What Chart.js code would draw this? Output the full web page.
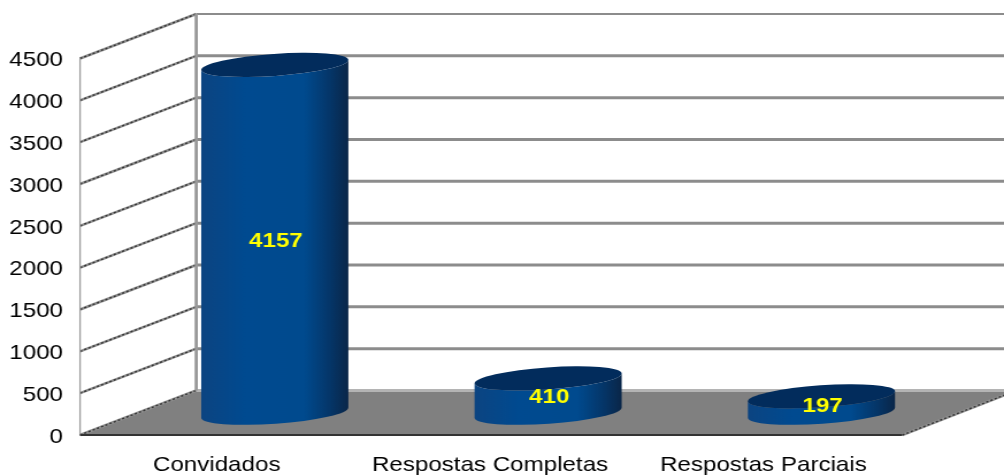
<!DOCTYPE html>
<html>
<head>
<meta charset="utf-8">
<script src="https://cdn.jsdelivr.net/npm/chart.js@4"></script>
<style>
html, body { margin: 0; padding: 0; background: #fff; }
canvas { display: block; filter: blur(0.35px); }
</style>
</head>
<body>
<!-- the picture is a widened image, so the canvas is drawn narrow and stretched to 1004 -->
<canvas id="myChart" width="873" height="475" style="width:1004px;height:475px"></canvas>
<script>
var categories = ['Convidados', 'Respostas Completas', 'Respostas Parciais'];
var values = [4157, 410, 197];
var yMax = 4500;
var yStep = 500;

// how far the back wall sits from the front plane
var depthX = 101;
var depthY = -44.5;
// tick labels sit 2px lower than the gridlines they belong to
var plotShift = -2;

function wallLine(ctx, x1, y1, x2, y2, color, width, dash) {
    ctx.save();
    ctx.strokeStyle = color;
    ctx.lineWidth = width;
    ctx.setLineDash(dash || []);
    ctx.beginPath();
    ctx.moveTo(x1, y1);
    ctx.lineTo(x2, y2);
    ctx.stroke();
    ctx.restore();
}

function roughLine(ctx, x1, y1, x2, y2) {
    wallLine(ctx, x1, y1, x2, y2, '#909090', 2.6);
    wallLine(ctx, x1, y1, x2, y2, '#333333', 1.4, [2, 2]);
}

var wallsPlugin = {
    id: 'walls',
    beforeDatasetsDraw: function (chart) {
        var ctx = chart.ctx;
        var area = chart.chartArea;
        var yScale = chart.scales.y;
        var y0 = yScale.getPixelForValue(0) + plotShift;
        var yTop = yScale.getPixelForValue(yMax) + plotShift;
        var backLeft = area.left + depthX;
        var backRight = chart.width + 20;

        // floor
        ctx.fillStyle = '#808080';
        ctx.beginPath();
        ctx.moveTo(area.left, y0);
        ctx.lineTo(backLeft, y0 + depthY);
        ctx.lineTo(area.right + depthX, y0 + depthY);
        ctx.lineTo(area.right + 2, y0);
        ctx.closePath();
        ctx.fill();

        // gridlines, back wall and side wall
        yScale.ticks.forEach(function (t) {
            var y = yScale.getPixelForValue(t.value) + plotShift;
            if (t.value > 0) {
                wallLine(ctx, backLeft, y + depthY, backRight, y + depthY, '#8c8c8c', t.value == yMax ? 2 : 3);
            }
            roughLine(ctx, area.left, y, backLeft, y + depthY);
        });
        wallLine(ctx, backLeft, y0 + depthY, backRight, y0 + depthY, '#b4b4b4', 3);

        // verticals
        wallLine(ctx, area.left, yTop, area.left, y0, '#a0a0a0', 1.3);
        wallLine(ctx, backLeft, yTop + depthY, backLeft, y0 + depthY, '#999999', 2.8);

        // floor edges
        wallLine(ctx, area.left, y0, area.right + 2, y0, '#333333', 2);
        roughLine(ctx, area.right + 2, y0, area.right + depthX, y0 + depthY);
    }
};

var cylinderPlugin = {
    id: 'cylinders',
    afterDatasetsDraw: function (chart) {
        var ctx = chart.ctx;
        var meta = chart.getDatasetMeta(0);
        var tilt = -4.6 * Math.PI / 180;
        meta.data.forEach(function (bar, i) {
            var rx = bar.width / 2;
            var ry = 11;
            var cx = bar.x + depthX / 2;
            var top = bar.y + depthY / 2 + plotShift;
            var bottom = bar.base + depthY / 2 + plotShift;
            var grad = ctx.createLinearGradient(cx - rx, 0, cx + rx, 0);
            grad.addColorStop(0, '#0c4481');
            grad.addColorStop(0.3, '#004a90');
            grad.addColorStop(0.7, '#004a8e');
            grad.addColorStop(0.88, '#053567');
            grad.addColorStop(1, '#0a2648');

            // side
            ctx.fillStyle = grad;
            ctx.beginPath();
            ctx.ellipse(cx, bottom, rx, ry, tilt, 0, Math.PI);
            ctx.ellipse(cx, top, rx, ry, tilt, Math.PI, 0, true);
            ctx.closePath();
            ctx.fill();

            // lid
            ctx.fillStyle = '#022c5c';
            ctx.beginPath();
            ctx.ellipse(cx, top, rx, ry, tilt, 0, Math.PI * 2);
            ctx.fill();

            // value label
            ctx.save();
            ctx.font = 'bold 21px "Liberation Sans", Arial, sans-serif';
            ctx.fillStyle = '#ffff00';
            ctx.textAlign = 'center';
            ctx.textBaseline = 'middle';
            ctx.fillText(values[i], cx + 1, (top + bottom) / 2 + 2);
            ctx.restore();
        });
    }
};

var ctx = document.getElementById('myChart').getContext('2d');
var myChart = new Chart(ctx, {
    type: 'bar',
    data: {
        labels: categories,
        datasets: [{
            data: values,
            backgroundColor: 'rgba(0, 0, 0, 0)',
            categoryPercentage: 1,
            barPercentage: 0.54
        }]
    },
    options: {
        responsive: false,
        animation: false,
        layout: { padding: { left: 0, top: 60.5, right: 90.4, bottom: 0 } },
        plugins: {
            legend: { display: false },
            tooltip: { enabled: false }
        },
        scales: {
            x: {
                grid: { display: false, drawTicks: false },
                border: { display: false },
                ticks: {
                    color: '#000000',
                    padding: 16,
                    maxRotation: 0,
                    font: { family: '"Liberation Sans"', size: 21 }
                },
                afterFit: function (scale) { scale.height = 38; }
            },
            y: {
                min: 0,
                max: yMax,
                grid: { display: false, drawTicks: false },
                border: { display: false },
                ticks: {
                    stepSize: yStep,
                    color: '#000000',
                    padding: 14.8,
                    font: { family: '"Liberation Sans"', size: 21 },
                    callback: function (value) { return String(value); }
                },
                afterFit: function (scale) { scale.width = 69.6; }
            }
        }
    },
    plugins: [wallsPlugin, cylinderPlugin]
});
</script>
</body>
</html>
